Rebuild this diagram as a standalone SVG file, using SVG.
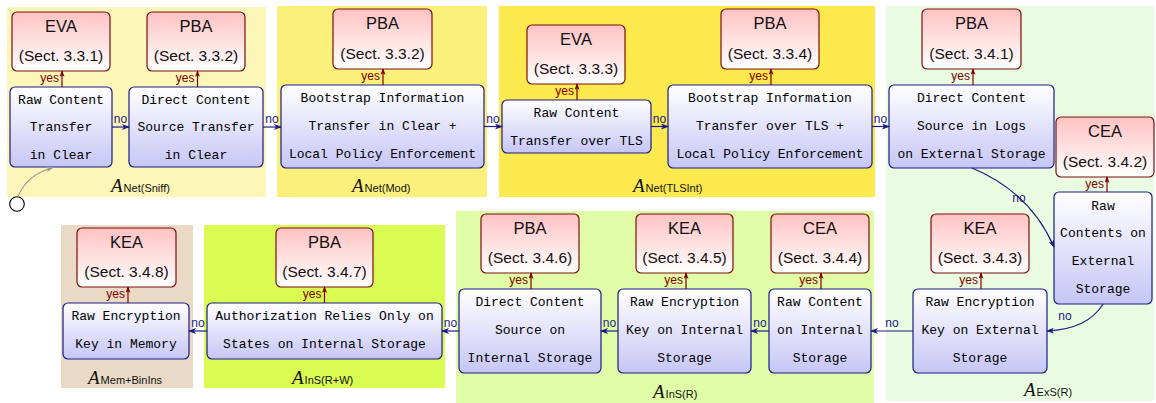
<svg xmlns="http://www.w3.org/2000/svg" width="1156" height="403" viewBox="0 0 1156 403">
  <defs>
    <linearGradient id="gBlue" x1="0" y1="0" x2="0" y2="1">
      <stop offset="0" stop-color="#ffffff"/>
      <stop offset="1" stop-color="#c6c6f6"/>
    </linearGradient>
    <linearGradient id="gRed" x1="0" y1="0" x2="0" y2="1">
      <stop offset="0" stop-color="#ffc2c2"/>
      <stop offset="1" stop-color="#ffffff"/>
    </linearGradient>
    <marker id="mNo" viewBox="0 0 8 6" refX="7" refY="3" markerWidth="8" markerHeight="6" markerUnits="userSpaceOnUse" orient="auto">
      <path d="M0,0 L8,3 L0,6 L2,3 Z" fill="#1c1c86"/>
    </marker>
    <marker id="mYes" viewBox="0 0 8 6" refX="7" refY="3" markerWidth="7" markerHeight="5" markerUnits="userSpaceOnUse" orient="auto">
      <path d="M0,0 L8,3 L0,6 L2,3 Z" fill="#800000"/>
    </marker>
    <marker id="mGray" viewBox="0 0 8 6" refX="7" refY="3" markerWidth="8" markerHeight="6" markerUnits="userSpaceOnUse" orient="auto">
      <path d="M0,0 L8,3 L0,6 L2,3 Z" fill="#999999"/>
    </marker>
  </defs>
  <style>
    .step rect { fill: url(#gBlue); stroke: #1c1c86; stroke-width: 1.2; }
    .step text { font-family: "Liberation Mono", "DejaVu Sans Mono", monospace; font-size: 13px; fill: #000; text-anchor: middle; dominant-baseline: central; }
    .attack rect { fill: url(#gRed); stroke: #7a0f0f; stroke-width: 1.2; }
    .attack text { font-family: "Liberation Sans", Arial, sans-serif; font-size: 15.5px; fill: #111; text-anchor: middle; dominant-baseline: central; }
    .attack text.t { font-size: 16.5px; }
    .no { stroke: #1c1c86; stroke-width: 1.2; fill: none; marker-end: url(#mNo); }
    .yes { stroke: #800000; stroke-width: 1.2; fill: none; marker-end: url(#mYes); }
    .lno { font-family: "Liberation Sans", Arial, sans-serif; font-size: 12px; fill: #1c1c86; text-anchor: middle; }
    .lyes { font-family: "Liberation Sans", Arial, sans-serif; font-size: 12px; fill: #800000; text-anchor: end; }
    .grp { font-family: "Liberation Serif", "DejaVu Serif", serif; font-size: 19px; font-style: italic; fill: #111; }
    .sub { font-family: "Liberation Sans", Arial, sans-serif; font-size: 11px; font-style: normal; }
  </style>

  <!-- attacker-model areas -->
  <g id="areas">
    <rect x="7" y="7" width="259" height="190" fill="#fdf6b9"/>
    <rect x="277" y="6" width="210" height="191" fill="#fcf07c"/>
    <rect x="499" y="6" width="376" height="191" fill="#fbe94e"/>
    <rect x="886" y="6" width="268" height="395" fill="#e9fce1"/>
    <rect x="456" y="211" width="418" height="192" fill="#e0fca6"/>
    <rect x="204" y="225" width="241" height="163" fill="#d9fb52"/>
    <rect x="61" y="225" width="132" height="163" fill="#eadac5"/>
  </g>

  <!-- area labels -->
  <g id="area-labels">
    <text class="grp" x="111" y="192">A<tspan class="sub" dx="1">Net(Sniff)</tspan></text>
    <text class="grp" x="352" y="192">A<tspan class="sub" dx="1">Net(Mod)</tspan></text>
    <text class="grp" x="633" y="192">A<tspan class="sub" dx="1">Net(TLSInt)</tspan></text>
    <text class="grp" x="1024" y="396">A<tspan class="sub" dx="1">ExS(R)</tspan></text>
    <text class="grp" x="653" y="398">A<tspan class="sub" dx="1">InS(R)</tspan></text>
    <text class="grp" x="292" y="384">A<tspan class="sub" dx="1">InS(R+W)</tspan></text>
    <text class="grp" x="88" y="384">A<tspan class="sub" dx="1">Mem+BinIns</tspan></text>
  </g>

  <!-- start marker -->
  <g id="start">
    <circle cx="17" cy="204" r="7.3" fill="#ffffff" stroke="#000" stroke-width="1.1"/>
  </g>

  <!-- decision steps -->
  <g id="b1" class="step"><rect x="10" y="87" width="102" height="80" rx="5"/>
    <text x="61" y="100">Raw Content</text><text x="61" y="127.5">Transfer</text><text x="61" y="155">in Clear</text></g>
  <g id="b2" class="step"><rect x="129" y="87" width="134" height="80" rx="5"/>
    <text x="196" y="100">Direct Content</text><text x="196" y="127.5">Source Transfer</text><text x="196" y="155">in Clear</text></g>
  <g id="b3" class="step"><rect x="281" y="85" width="203" height="83" rx="5"/>
    <text x="382.5" y="98.5">Bootstrap Information</text><text x="382.5" y="126.5">Transfer in Clear +</text><text x="382.5" y="154.5">Local Policy Enforcement</text></g>
  <g id="b4" class="step"><rect x="502" y="100" width="149" height="53" rx="5"/>
    <text x="576.5" y="113">Raw Content</text><text x="576.5" y="141">Transfer over TLS</text></g>
  <g id="b5" class="step"><rect x="668" y="85" width="204" height="83" rx="5"/>
    <text x="770" y="98.5">Bootstrap Information</text><text x="770" y="126.5">Transfer over TLS +</text><text x="770" y="154.5">Local Policy Enforcement</text></g>
  <g id="b6" class="step"><rect x="889" y="85" width="165" height="83" rx="5"/>
    <text x="971.5" y="98.5">Direct Content</text><text x="971.5" y="126.5">Source in Logs</text><text x="971.5" y="154.5">on External Storage</text></g>
  <g id="b7" class="step"><rect x="1054" y="192" width="98" height="112" rx="5"/>
    <text x="1103" y="206">Raw</text><text x="1103" y="233.5">Contents on</text><text x="1103" y="261">External</text><text x="1103" y="289">Storage</text></g>
  <g id="b8" class="step"><rect x="913" y="289" width="134" height="84" rx="5"/>
    <text x="980" y="302.5">Raw Encryption</text><text x="980" y="330.5">Key on External</text><text x="980" y="358.5">Storage</text></g>
  <g id="b9" class="step"><rect x="769" y="289" width="102" height="84" rx="5"/>
    <text x="820" y="302.5">Raw Content</text><text x="820" y="330.5">on Internal</text><text x="820" y="358.5">Storage</text></g>
  <g id="b10" class="step"><rect x="618" y="289" width="133" height="84" rx="5"/>
    <text x="684.5" y="302.5">Raw Encryption</text><text x="684.5" y="330.5">Key on Internal</text><text x="684.5" y="358.5">Storage</text></g>
  <g id="b11" class="step"><rect x="459" y="289" width="142" height="84" rx="5"/>
    <text x="530" y="302.5">Direct Content</text><text x="530" y="330.5">Source on</text><text x="530" y="358.5">Internal Storage</text></g>
  <g id="b12" class="step"><rect x="207" y="303" width="235" height="56" rx="5"/>
    <text x="324.5" y="316.5">Authorization Relies Only on</text><text x="324.5" y="344.5">States on Internal Storage</text></g>
  <g id="b13" class="step"><rect x="63" y="303" width="126" height="56" rx="5"/>
    <text x="126" y="316.5">Raw Encryption</text><text x="126" y="344.5">Key in Memory</text></g>

  <!-- attacks -->
  <g id="r1" class="attack"><rect x="12" y="12" width="98" height="59" rx="5"/>
    <text class="t" x="61" y="25.5">EVA</text><text x="61" y="55">(Sect. 3.3.1)</text></g>
  <g id="r2" class="attack"><rect x="147" y="12" width="98" height="59" rx="5"/>
    <text class="t" x="196" y="25.5">PBA</text><text x="196" y="55">(Sect. 3.3.2)</text></g>
  <g id="r3" class="attack"><rect x="333" y="9" width="99" height="60" rx="5"/>
    <text class="t" x="382.5" y="23">PBA</text><text x="382.5" y="53">(Sect. 3.3.2)</text></g>
  <g id="r4" class="attack"><rect x="527" y="25" width="98" height="59" rx="5"/>
    <text class="t" x="576" y="39">EVA</text><text x="576" y="68.5">(Sect. 3.3.3)</text></g>
  <g id="r5" class="attack"><rect x="721" y="9" width="98" height="60" rx="5"/>
    <text class="t" x="770" y="23">PBA</text><text x="770" y="53">(Sect. 3.3.4)</text></g>
  <g id="r6" class="attack"><rect x="922" y="9" width="99" height="60" rx="5"/>
    <text class="t" x="971.5" y="23">PBA</text><text x="971.5" y="53">(Sect. 3.4.1)</text></g>
  <g id="r7" class="attack"><rect x="1056" y="117" width="98" height="60" rx="5"/>
    <text class="t" x="1105" y="131">CEA</text><text x="1105" y="161">(Sect. 3.4.2)</text></g>
  <g id="r8" class="attack"><rect x="931" y="214" width="98" height="59" rx="5"/>
    <text class="t" x="980" y="228">KEA</text><text x="980" y="257.5">(Sect. 3.4.3)</text></g>
  <g id="r9" class="attack"><rect x="771" y="214" width="98" height="59" rx="5"/>
    <text class="t" x="820" y="228">CEA</text><text x="820" y="257.5">(Sect. 3.4.4)</text></g>
  <g id="r10" class="attack"><rect x="636" y="214" width="97" height="59" rx="5"/>
    <text class="t" x="684.5" y="228">KEA</text><text x="684.5" y="257.5">(Sect. 3.4.5)</text></g>
  <g id="r11" class="attack"><rect x="481" y="214" width="98" height="59" rx="5"/>
    <text class="t" x="530" y="228">PBA</text><text x="530" y="257.5">(Sect. 3.4.6)</text></g>
  <g id="r12" class="attack"><rect x="276" y="228" width="97" height="59" rx="5"/>
    <text class="t" x="324.5" y="242">PBA</text><text x="324.5" y="271.5">(Sect. 3.4.7)</text></g>
  <g id="r13" class="attack"><rect x="77" y="228" width="99" height="59" rx="5"/>
    <text class="t" x="126.5" y="242">KEA</text><text x="126.5" y="271.5">(Sect. 3.4.8)</text></g>

  <!-- connectors -->
  <g id="connectors">
    <path d="M18,196.5 C24,182 36,172 53,167.5" stroke="#999999" stroke-width="1.1" fill="none" marker-end="url(#mGray)"/>

    <!-- "no" edges -->
    <path class="no" d="M112,127 H129"/><text class="lno" x="120.5" y="123">no</text>
    <path class="no" d="M263,127 H281"/><text class="lno" x="272" y="123">no</text>
    <path class="no" d="M484,126.5 H502"/><text class="lno" x="493" y="122.5">no</text>
    <path class="no" d="M651,126.5 H668"/><text class="lno" x="659.5" y="122.5">no</text>
    <path class="no" d="M872,126.5 H889"/><text class="lno" x="880.5" y="122.5">no</text>
    <path class="no" d="M972,168 Q1030,192 1054,247"/><text class="lno" x="1019" y="202">no</text>
    <path class="no" d="M1103,304 Q1088,329 1047,331"/><text class="lno" x="1065" y="320">no</text>
    <path class="no" d="M913,331 H871"/><text class="lno" x="892" y="327">no</text>
    <path class="no" d="M769,331 H751"/><text class="lno" x="760" y="327">no</text>
    <path class="no" d="M618,331 H601"/><text class="lno" x="609.5" y="327">no</text>
    <path class="no" d="M459,331 H442"/><text class="lno" x="450.5" y="327">no</text>
    <path class="no" d="M207,331 H189"/><text class="lno" x="198" y="327">no</text>

    <!-- "yes" edges -->
    <path class="yes" d="M62,87 V71"/><text class="lyes" x="59" y="82">yes</text>
    <path class="yes" d="M197.5,87 V71"/><text class="lyes" x="194.5" y="82">yes</text>
    <path class="yes" d="M383,85 V69"/><text class="lyes" x="380" y="80">yes</text>
    <path class="yes" d="M577,100 V84"/><text class="lyes" x="574" y="95">yes</text>
    <path class="yes" d="M771,85 V69"/><text class="lyes" x="768" y="80">yes</text>
    <path class="yes" d="M973,85 V69"/><text class="lyes" x="970" y="80">yes</text>
    <path class="yes" d="M1107,192 V177"/><text class="lyes" x="1104" y="188">yes</text>
    <path class="yes" d="M981,289 V273"/><text class="lyes" x="978" y="284">yes</text>
    <path class="yes" d="M821,289 V273"/><text class="lyes" x="818" y="284">yes</text>
    <path class="yes" d="M686,289 V273"/><text class="lyes" x="683" y="284">yes</text>
    <path class="yes" d="M531,289 V273"/><text class="lyes" x="528" y="284">yes</text>
    <path class="yes" d="M324.5,303 V287"/><text class="lyes" x="321.5" y="298">yes</text>
    <path class="yes" d="M128,303 V287"/><text class="lyes" x="125" y="298">yes</text>
  </g>
</svg>
